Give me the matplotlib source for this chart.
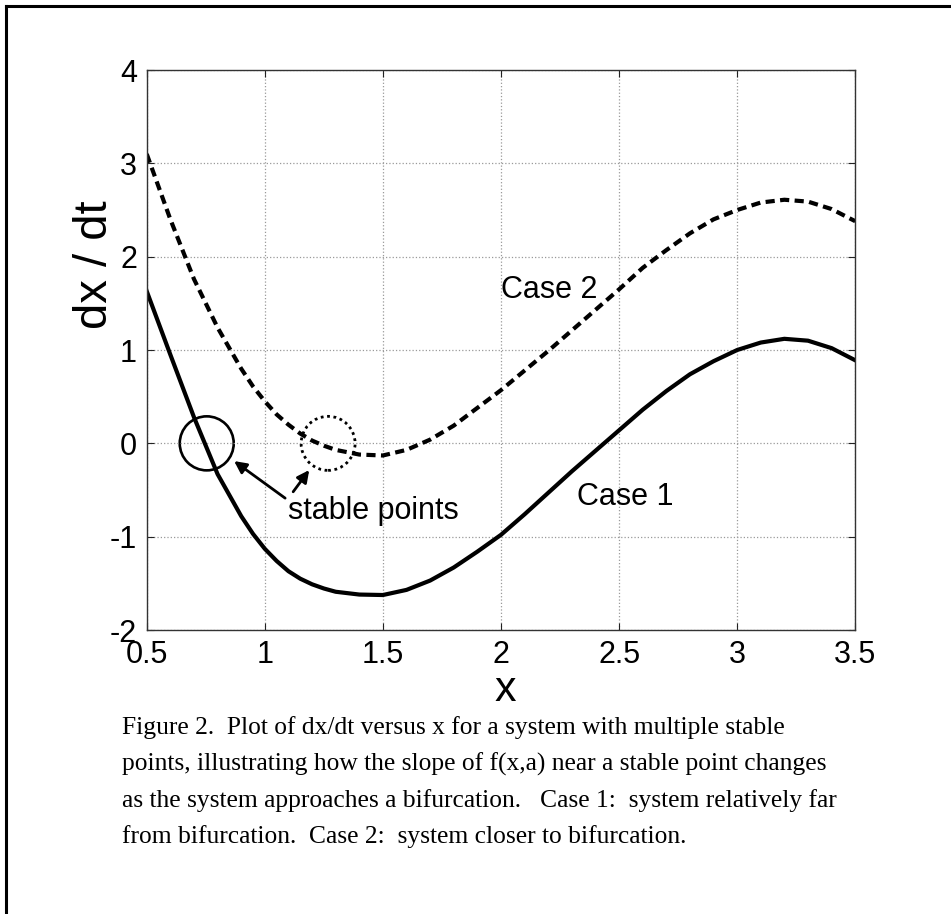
import numpy as np
import matplotlib
matplotlib.use("Agg")
import matplotlib.pyplot as plt
from matplotlib.patches import Ellipse
from matplotlib.lines import Line2D

# values
x_vals = [0.5, 0.6, 0.7, 0.8, 0.9, 0.95, 1.0, 1.05, 1.1, 1.15, 1.2, 1.25, 1.3, 1.4, 1.5,
          1.6, 1.7, 1.8, 1.9, 2.0, 2.1, 2.2, 2.3, 2.4, 2.5,
          2.6, 2.7, 2.8, 2.9, 3.0, 3.1, 3.2, 3.3, 3.4, 3.5]
case1 = [1.63, 0.95, 0.28, -0.33, -0.78, -0.97, -1.13, -1.26, -1.37, -1.45, -1.51, -1.555,
         -1.59, -1.62, -1.625,
         -1.57, -1.47, -1.33, -1.16, -0.98, -0.76, -0.53, -0.30, -0.08, 0.14,
         0.36, 0.56, 0.74, 0.88, 1.00, 1.08, 1.12, 1.10, 1.02, 0.89]
case2 = [3.10, 2.40, 1.76, 1.24, 0.80, 0.61, 0.45, 0.31, 0.20, 0.105, 0.03, -0.025,
         -0.07, -0.12, -0.13,
         -0.07, 0.04, 0.19, 0.38, 0.57, 0.78, 0.99, 1.21, 1.43, 1.65,
         1.88, 2.07, 2.25, 2.40, 2.50, 2.58, 2.61, 2.59, 2.51, 2.38]
stable_pts = [(0.754, 0.0), (1.268, 0.0)]

x_ticks = [0.5, 1, 1.5, 2, 2.5, 3, 3.5]
x_ticklabels = ["0.5", "1", "1.5", "2", "2.5", "3", "3.5"]
y_ticks = [-2, -1, 0, 1, 2, 3, 4]
y_ticklabels = ["-2", "-1", "0", "1", "2", "3", "4"]

caption = [
    "Figure 2.  Plot of dx/dt versus x for a system with multiple stable",
    "points, illustrating how the slope of f(x,a) near a stable point changes",
    "as the system approaches a bifurcation.   Case 1:  system relatively far",
    "from bifurcation.  Case 2:  system closer to bifurcation.",
]

plt.rcParams["font.family"] = ["Liberation Sans", "DejaVu Sans"]

fig = plt.figure(figsize=(9.51, 9.14), dpi=100)
ax = fig.add_axes([0.1543, 0.3107, 0.745, 0.6127])

ax.plot(x_vals, case1, color="black", lw=3.0, solid_joinstyle="round")
ax.plot(x_vals, case2, color="black", lw=3.0, linestyle=(0, (2.2, 1.3)))

ax.set_xlim(0.5, 3.5)
ax.set_ylim(-2, 4)
ax.set_xticks(x_ticks)
ax.set_xticklabels(x_ticklabels)
ax.set_yticks(y_ticks)
ax.set_yticklabels(y_ticklabels)
ax.tick_params(direction="in", top=True, right=True, length=5, width=0.8,
               labelsize=22, pad=7, colors="#222222", labelcolor="black")
ax.grid(True, linestyle=":", color="#999999", lw=0.9)
for s in ax.spines.values():
    s.set_color("#333333")
    s.set_linewidth(1.0)

# circles around the stable points (about 54 px across)
cw = 54 / 236.3
ch = 54 / 93.3
ax.add_patch(Ellipse(stable_pts[0], cw, ch, fill=False, ec="black", lw=1.9))
ax.add_patch(Ellipse(stable_pts[1], cw, ch, fill=False, ec="black", lw=2.0,
                     linestyle=(0, (1, 1.3))))

ax.text(2.0, 1.64, "Case 2", fontsize=22, ha="left", va="center")
ax.text(2.32, -0.57, "Case 1", fontsize=22, ha="left", va="center")
ax.text(1.098, -0.72, "stable points", fontsize=22, ha="left", va="center")

arrow = dict(arrowstyle="-|>", color="black", lw=2.0, mutation_scale=18,
             shrinkA=0, shrinkB=0)
ax.annotate("", xy=(0.870, -0.19), xytext=(1.086, -0.587), arrowprops=arrow)
ax.annotate("", xy=(1.188, -0.286), xytext=(1.120, -0.519), arrowprops=arrow)

fig.text(0.531, 0.245, "x", fontsize=31, ha="center", va="center")
fig.text(0.1, 0.71, "dx / dt", fontsize=34, ha="center", va="center", rotation=90)

for i, line in enumerate(caption):
    fig.text(0.128, 0.2035 - i * 0.0394, line, fontsize=18.4, ha="left", va="center",
             family=["Liberation Serif", "DejaVu Serif"])

# page border (top and left edges visible)
fig.add_artist(Line2D([0.006, 1.0], [0.9935, 0.9935], color="black", lw=2.2,
                      transform=fig.transFigure))
fig.add_artist(Line2D([0.006, 0.006], [0.0, 0.9935], color="black", lw=2.2,
                      transform=fig.transFigure))

fig.savefig("out.png", dpi=100)
